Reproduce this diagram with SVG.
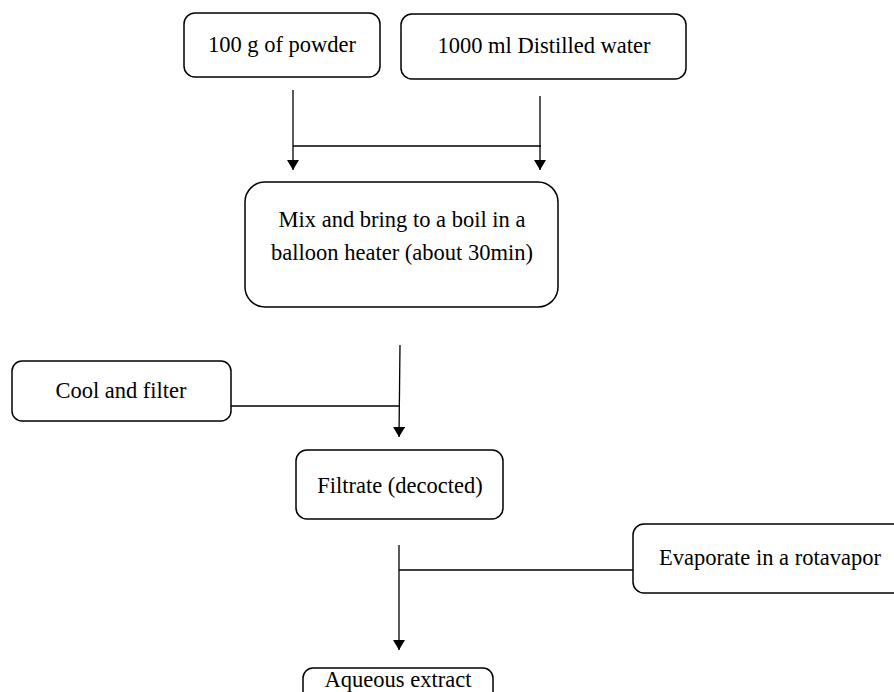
<svg xmlns="http://www.w3.org/2000/svg" width="894" height="692" viewBox="0 0 894 692">
<defs>
<style>
.box{fill:#fff;stroke:#000;stroke-width:1.5}
.t{font-family:"Liberation Serif","Times New Roman",serif;font-size:22.5px;fill:#000;text-anchor:middle}
.ln{stroke:#000;stroke-width:1.3;fill:none}
</style>
<marker id="ah" viewBox="0 0 10 12" refX="10" refY="6" markerWidth="11" markerHeight="12" markerUnits="userSpaceOnUse" orient="auto">
<path d="M0,0 L10,6 L0,12 z" fill="#000"/>
</marker>
</defs>
<rect width="894" height="692" fill="#fff"/>
<g id="connectors">
<line class="ln" x1="293" y1="90" x2="293" y2="170" marker-end="url(#ah)"/>
<line class="ln" x1="540" y1="96" x2="540" y2="170" marker-end="url(#ah)"/>
<line class="ln" x1="293" y1="146" x2="541" y2="146"/>
<line class="ln" x1="400" y1="345" x2="399" y2="437" marker-end="url(#ah)"/>
<line class="ln" x1="231" y1="406" x2="400" y2="406"/>
<line class="ln" x1="399" y1="545" x2="399" y2="650" marker-end="url(#ah)"/>
<line class="ln" x1="399" y1="570" x2="633" y2="570"/>
</g>
<g id="powder">
<rect class="box" x="184" y="13" width="196" height="64" rx="11"/>
<text class="t" x="282" y="52">100 g of powder</text>
</g>
<g id="water">
<rect class="box" x="401" y="14" width="285" height="65" rx="11"/>
<text class="t" x="544" y="53">1000 ml Distilled water</text>
</g>
<g id="mix">
<rect class="box" x="245" y="182" width="313" height="125" rx="20"/>
<text class="t" x="402" y="227">Mix and bring to a boil in a</text>
<text class="t" x="402" y="260">balloon heater (about 30min)</text>
</g>
<g id="cool">
<rect class="box" x="12" y="361" width="219" height="60" rx="10"/>
<text class="t" x="121" y="398">Cool and filter</text>
</g>
<g id="filtrate">
<rect class="box" x="296" y="450" width="207" height="69" rx="11"/>
<text class="t" x="400" y="493">Filtrate (decocted)</text>
</g>
<g id="evaporate">
<rect class="box" x="633" y="524" width="275" height="69" rx="11"/>
<text class="t" x="770" y="565">Evaporate in a rotavapor</text>
</g>
<g id="aqueous">
<rect class="box" x="303" y="668" width="190" height="40" rx="10"/>
<text class="t" x="398" y="687">Aqueous extract</text>
</g>
</svg>
